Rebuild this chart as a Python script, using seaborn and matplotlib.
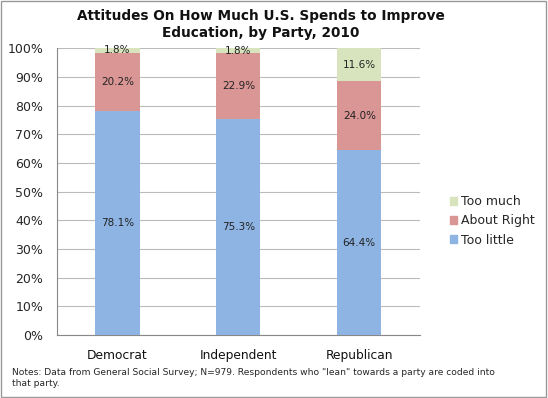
import numpy as np
import pandas as pd
import matplotlib
matplotlib.use("Agg")
import matplotlib.pyplot as plt
import seaborn as sns
from matplotlib.patches import Patch, Rectangle

parties = ["Democrat", "Independent", "Republican"]
too_little = [78.1, 75.3, 64.4]
about_right = [20.2, 22.9, 24.0]
too_much = [1.8, 1.8, 11.6]

colors = {"Too little": "#8EB4E3", "About Right": "#D99694", "Too much": "#D7E4BD"}

sns.set_style("white")
plt.rcParams["font.family"] = ["DejaVu Sans"]

df = pd.DataFrame({"party": parties, "Too little": too_little,
                   "About Right": about_right, "Too much": too_much})
df["cum1"] = df["Too little"]
df["cum2"] = df["cum1"] + df["About Right"]
df["cum3"] = df["cum2"] + df["Too much"]

fig = plt.figure(figsize=(5.48, 3.98), dpi=100)
ax = fig.add_axes([0.104, 0.158, 0.662, 0.721])

# draw from top down so each layer covers the one above
for col, key in [("cum3", "Too much"), ("cum2", "About Right"), ("cum1", "Too little")]:
    sns.barplot(data=df, x="party", y=col, color=colors[key], width=0.365,
                saturation=1, linewidth=0, ax=ax, zorder=3)

# labels
for i in range(len(parties)):
    ax.text(i, too_little[i] / 2, f"{too_little[i]:.1f}%", ha="center", va="center",
            fontsize=7.5, color="#222222", zorder=5)
    ax.text(i, df["cum1"][i] + about_right[i] / 2, f"{about_right[i]:.1f}%", ha="center",
            va="center", fontsize=7.5, color="#222222", zorder=5)
    ax.text(i, df["cum2"][i] + too_much[i] / 2, f"{too_much[i]:.1f}%", ha="center",
            va="center", fontsize=7.5, color="#222222", zorder=5)

ax.set_ylim(0, 100)
ax.set_xlim(-0.5, 2.5)
ax.set_yticks(np.arange(0, 101, 10))
ax.set_yticklabels([f"{v}%" for v in range(0, 101, 10)], fontsize=9)
ax.set_xticks(range(3))
ax.set_xticklabels(parties, fontsize=8.8, color="#111111")
ax.set_xticks([-0.5, 0.5, 1.5, 2.5], minor=True)
ax.tick_params(axis="x", which="major", length=0, pad=10)
ax.tick_params(axis="x", which="minor", length=4, color="#888888", direction="out")
ax.tick_params(axis="y", length=4, color="#888888", direction="out", pad=6)
ax.set_xlabel("")
ax.set_ylabel("")
ax.yaxis.grid(True, color="#BBBBBB", linewidth=0.8, zorder=0)
ax.set_axisbelow(True)
for s in ["top", "right"]:
    ax.spines[s].set_visible(False)
ax.spines["left"].set_color("#888888")
ax.spines["bottom"].set_color("#888888")

fig.suptitle("Attitudes On How Much U.S. Spends to Improve\nEducation, by Party, 2010",
             x=0.476, y=0.978, fontsize=9.8, fontweight="bold", linespacing=1.3,
             color="#111111")

handles = [Patch(color=colors[k], label=k) for k in ["Too much", "About Right", "Too little"]]
fig.legend(handles=handles, loc="center left", bbox_to_anchor=(0.8, 0.445), frameon=False,
           fontsize=9, handlelength=0.6, handleheight=0.6, handletextpad=0.3, labelspacing=0.5)

fig.text(0.022, 0.05, "Notes: Data from General Social Survey; N=979. Respondents who \"lean\" towards a party are coded into\nthat party.",
         fontsize=6.6, va="center", linespacing=1.4)

fig.patches.append(Rectangle((0.002, 0.003), 0.995, 0.994, transform=fig.transFigure,
                             fill=False, edgecolor="#999999", linewidth=1))

fig.savefig("out.png", dpi=100)
